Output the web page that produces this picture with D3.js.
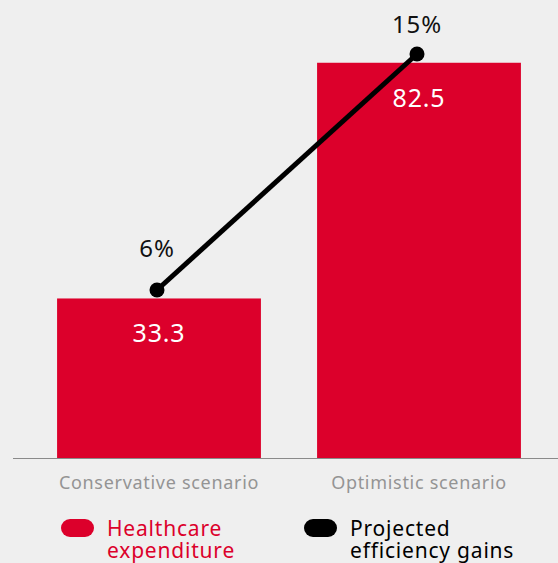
<!DOCTYPE html>
<html>
<head>
  <meta charset="utf-8">
  <script src="https://cdn.jsdelivr.net/npm/d3@7"></script>
  <style>
    body { margin: 0; background: #efefef; }
    svg { display: block; font-family: "Noto Sans", sans-serif; }
  </style>
</head>
<body>
<script>
  const w = 558;
  const h = 563;

  // Data
  const categories = ["Conservative scenario", "Optimistic scenario"];
  const expenditure = [33.3, 82.5];
  const efficiency = [6, 15];
  const legendLabels = [["Healthcare", "expenditure"], ["Projected", "efficiency gains"]];

  const red = "#dc002b";

  const svg = d3.select("body").append("svg")
    .attr("width", w)
    .attr("height", h);

  const xScale = d3.scaleBand()
    .domain(categories)
    .range([29, 549])
    .paddingInner(0.216)
    .paddingOuter(0.108);

  const yScale = d3.scaleLinear().domain([0, 95.6]).range([458, 0]);
  const y2Scale = d3.scaleLinear().domain([0, 17.06]).range([447.3, 0]);

  const cx = c => xScale(c) + xScale.bandwidth() / 2;

  // baseline
  svg.append("line")
    .attr("x1", 13).attr("x2", w)
    .attr("y1", 458.5).attr("y2", 458.5)
    .attr("stroke", "#8a8a8a")
    .attr("stroke-width", 1.2);

  // bars
  svg.selectAll("rect.bar")
    .data(expenditure)
    .enter().append("rect")
    .attr("class", "bar")
    .attr("x", (d, i) => xScale(categories[i]))
    .attr("width", xScale.bandwidth())
    .attr("y", d => yScale(d))
    .attr("height", d => yScale(0) - yScale(d))
    .attr("fill", red);

  // bar values
  svg.selectAll("text.val")
    .data(expenditure)
    .enter().append("text")
    .attr("class", "val")
    .attr("x", (d, i) => cx(categories[i]))
    .attr("y", d => yScale(d) + 44)
    .attr("text-anchor", "middle")
    .attr("fill", "#fff")
    .attr("font-size", 25)
    .attr("letter-spacing", 0.8)
    .text(d => d.toFixed(1));

  // x axis labels
  const xAxis = d3.axisBottom(xScale).tickSize(0).tickPadding(18);
  const gx = svg.append("g")
    .attr("transform", "translate(0,458)")
    .call(xAxis);
  gx.select(".domain").remove();
  gx.selectAll("text")
    .attr("fill", "#949494")
    .attr("font-size", 18)
    .attr("letter-spacing", 0.7)
    .attr("font-family", "Noto Sans, sans-serif");

  // line
  const line = d3.line()
    .x((d, i) => cx(categories[i]) - 2)
    .y(d => y2Scale(d));

  svg.append("path")
    .datum(efficiency)
    .attr("d", line)
    .attr("fill", "none")
    .attr("stroke", "#000")
    .attr("stroke-width", 5);

  svg.selectAll("circle.dot")
    .data(efficiency)
    .enter().append("circle")
    .attr("class", "dot")
    .attr("cx", (d, i) => cx(categories[i]) - 2)
    .attr("cy", d => y2Scale(d))
    .attr("r", 7.5)
    .attr("fill", "#000");

  svg.selectAll("text.pct")
    .data(efficiency)
    .enter().append("text")
    .attr("class", "pct")
    .attr("x", (d, i) => cx(categories[i]) - 2)
    .attr("y", d => Math.max(y2Scale(d) - 33, 33))
    .attr("text-anchor", "middle")
    .attr("fill", "#111")
    .attr("font-size", 24)
    .attr("letter-spacing", 0.8)
    .text(d => d + "%");

  // legend
  const legendX = [61, 304];
  const legendColors = [red, "#000"];
  const legend = svg.selectAll("g.legend")
    .data(legendLabels)
    .enter().append("g")
    .attr("class", "legend")
    .attr("transform", (d, i) => "translate(" + legendX[i] + ",519)");

  legend.append("rect")
    .attr("width", 33).attr("height", 18)
    .attr("rx", 9)
    .attr("fill", (d, i) => legendColors[i]);

  legend.each(function(d, i) {
    d3.select(this).selectAll("text")
      .data(d)
      .enter().append("text")
      .attr("x", 46)
      .attr("y", (t, j) => 17 + j * 22)
      .attr("font-size", 21)
      .attr("letter-spacing", 0.8)
      .attr("fill", legendColors[i])
      .text(t => t);
  });
</script>
</body>
</html>
